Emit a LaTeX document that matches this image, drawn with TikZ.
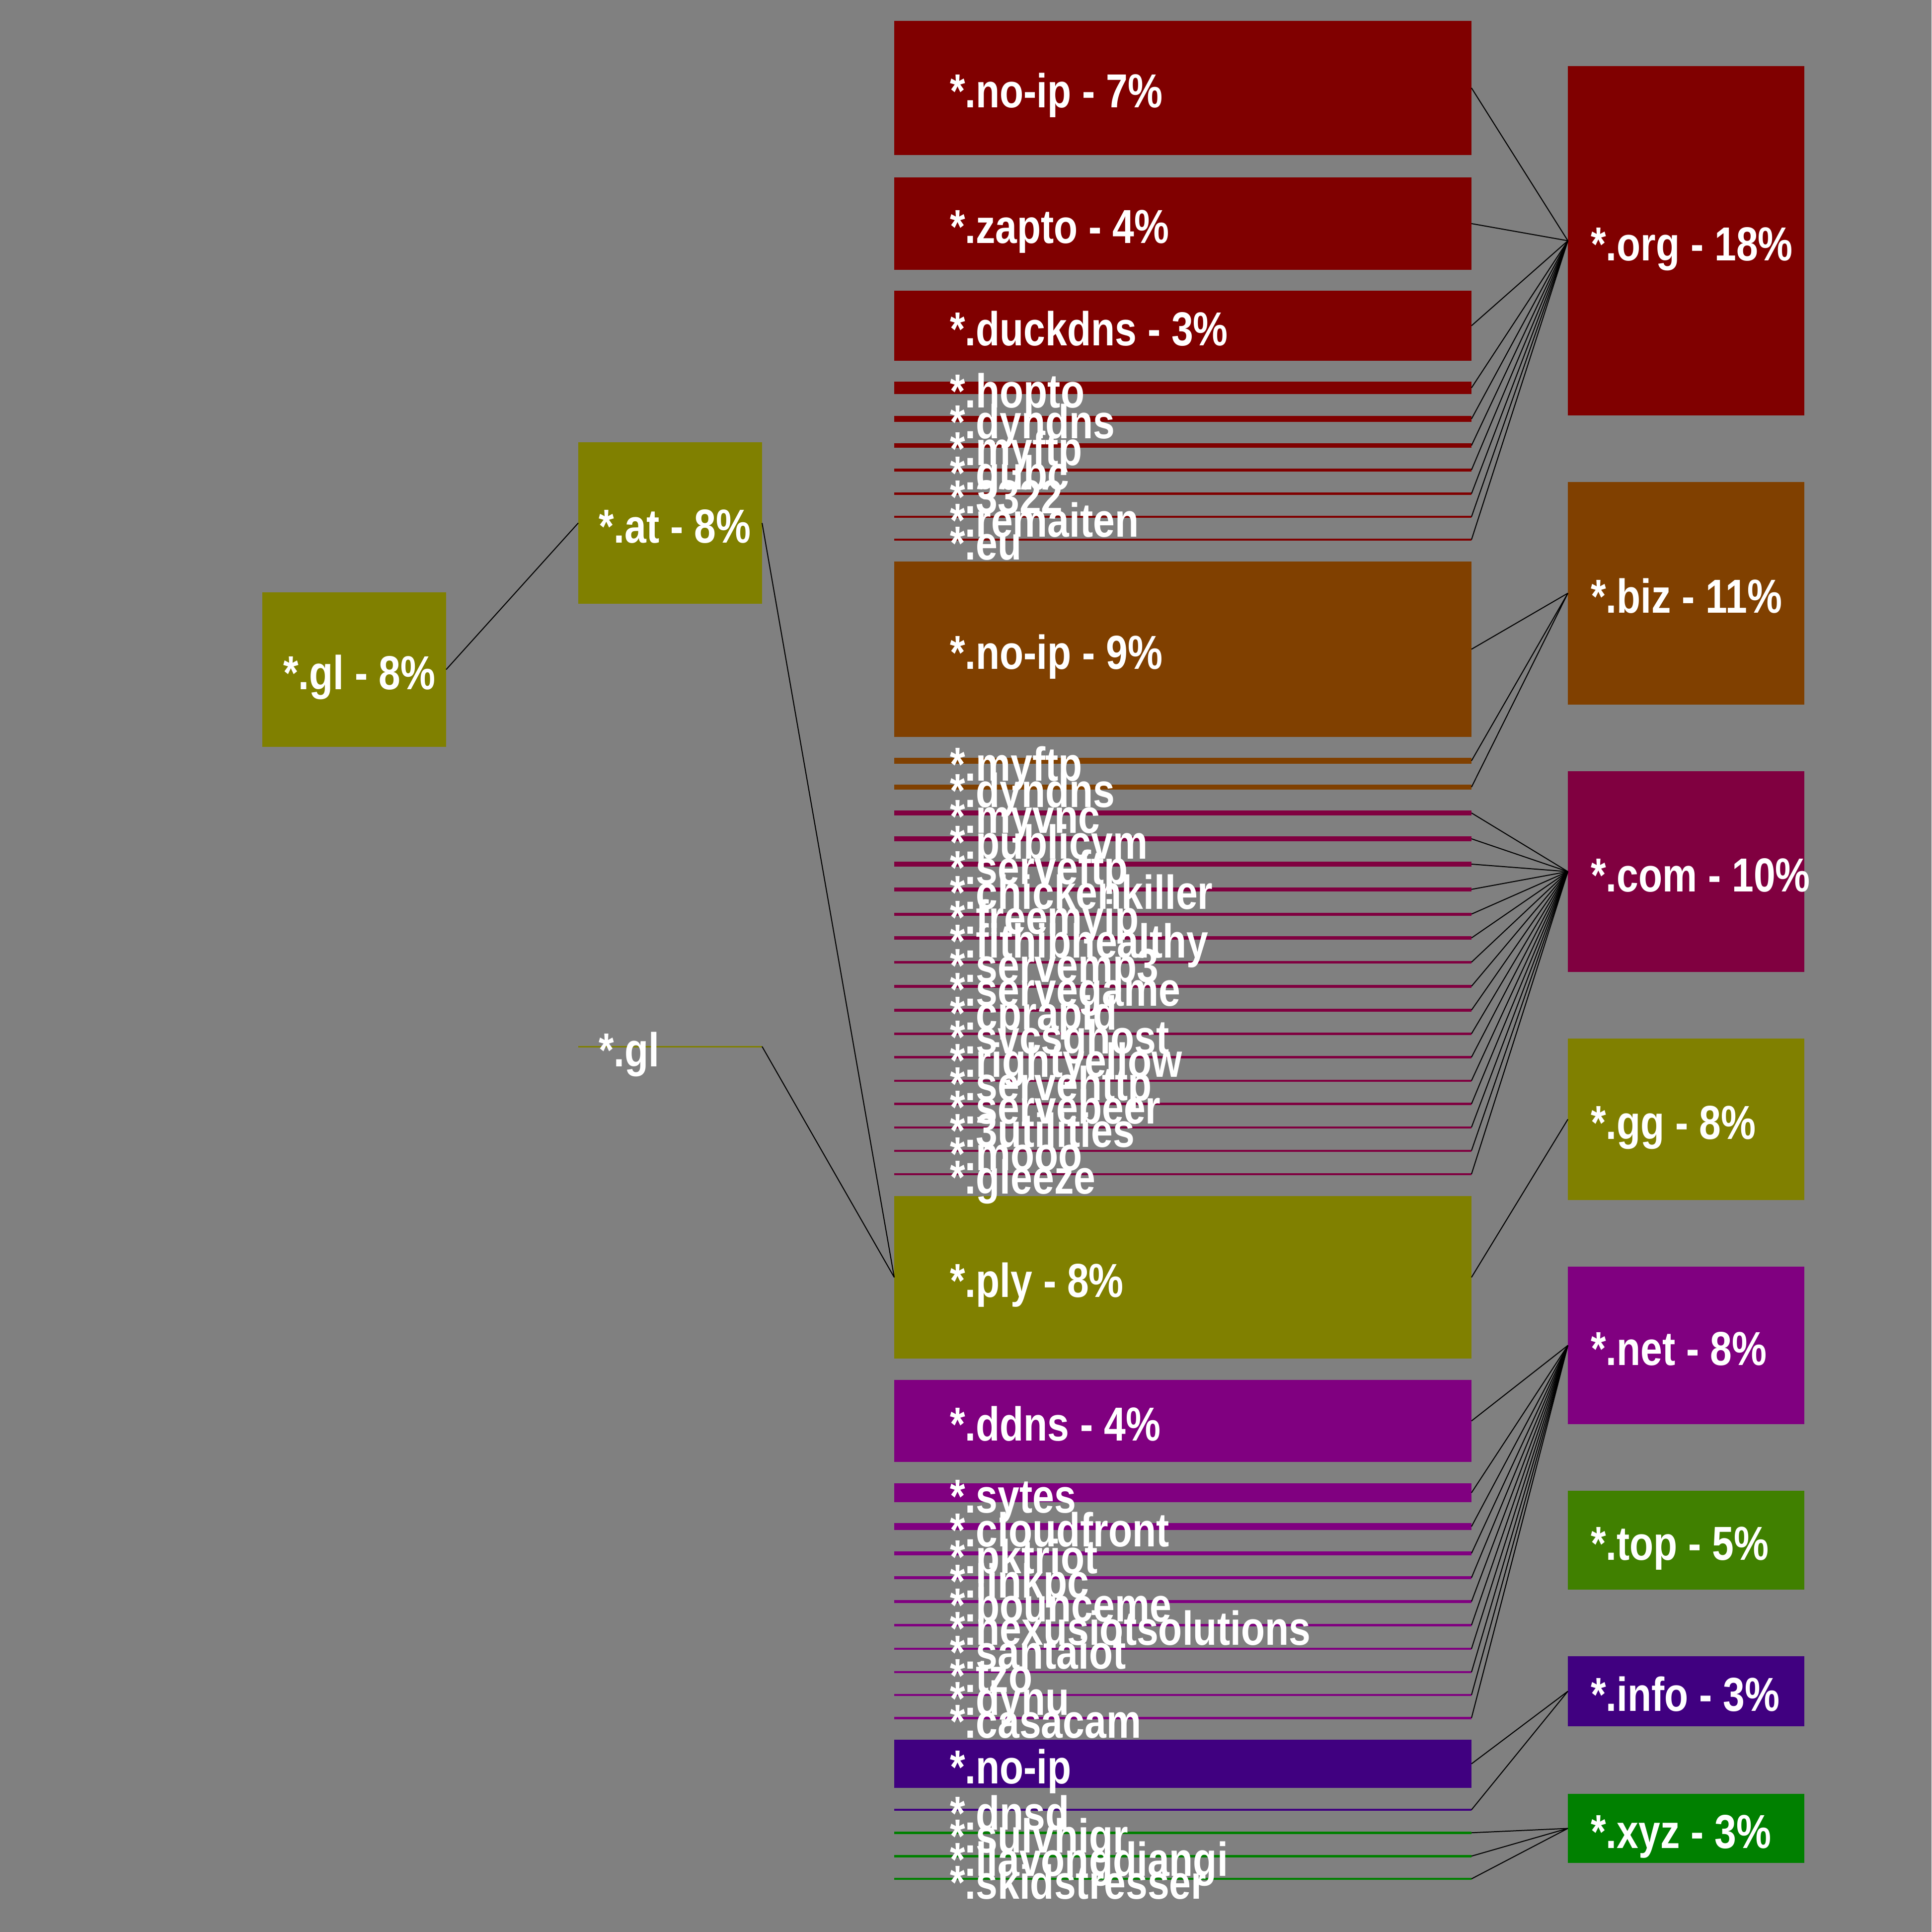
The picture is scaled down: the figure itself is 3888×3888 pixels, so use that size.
\documentclass[tikz,border=0pt]{standalone}
\usepackage{fontspec}
\newfontfamily\labfont[FakeStretch=0.82]{Liberation Sans}
\definecolor{bg}{HTML}{808080}
\definecolor{corg}{HTML}{800000}
\definecolor{cbiz}{HTML}{804000}
\definecolor{ccom}{HTML}{800040}
\definecolor{colive}{HTML}{808000}
\definecolor{cnet}{HTML}{800080}
\definecolor{ctop}{HTML}{408000}
\definecolor{cinfo}{HTML}{400080}
\definecolor{cxyz}{HTML}{008000}
\newcommand\bx[6]{\node[bar, fill=#6, minimum width={(#4-#2)*0.1pt}, minimum height={(#5-#3)*0.1pt}] (#1) at ({(#2+#4)/2},{(#3+#5)/2}) {};}
\newcommand\lb[3]{\node[lab, yshift=-4pt] (#1-t) at (#1.center -| #2) {#3};}
\begin{document}
\begin{tikzpicture}[x=0.1pt,y=-0.1pt,
  bar/.style={rectangle, inner sep=0pt, outer sep=0pt, draw=none},
  lab/.style={anchor=base west, inner sep=0pt, outer sep=0pt, text=white,
    font=\labfont\bfseries\fontsize{9.6pt}{11pt}\selectfont},
  conn/.style={draw=black, line width=0.2pt}]
\useasboundingbox (0,0) rectangle (3888,3888);
\fill[bg] (0,0) rectangle (3888,3888);
\coordinate (xa) at (570,0);
\coordinate (xb) at (1205,0);
\coordinate (xm) at (1912,0);
\coordinate (xr) at (3202,0);
% left columns
\bx{gla}{528}{1192}{898}{1503}{colive}
\bx{at}{1164}{890}{1534}{1215}{colive}
\bx{glb}{1164}{2104.5}{1534}{2107.5}{colive}
% right column
\bx{org}{3156}{133}{3632}{836}{corg}
\bx{biz}{3156}{969.5}{3632}{1418}{cbiz}
\bx{com}{3156}{1552}{3632}{1956}{ccom}
\bx{gg}{3156}{2090}{3632}{2415}{colive}
\bx{net}{3156}{2549}{3632}{2866}{cnet}
\bx{top}{3156}{3000}{3632}{3199}{ctop}
\bx{info}{3156}{3333}{3632}{3474}{cinfo}
\bx{xyz}{3156}{3610}{3632}{3749}{cxyz}
% middle column
\bx{noipa}{1800}{42}{2962}{312}{corg}
\bx{zapto}{1800}{357}{2962}{543}{corg}
\bx{duckdns}{1800}{585}{2962}{726}{corg}
\bx{hopto}{1800}{768}{2962}{793}{corg}
\bx{dyndnsa}{1800}{837}{2962}{849}{corg}
\bx{myftpa}{1800}{892}{2962}{901}{corg}
\bx{gubc}{1800}{943}{2962}{948.5}{corg}
\bx{nthree}{1800}{991}{2962}{996}{corg}
\bx{remaiten}{1800}{1038}{2962}{1042}{corg}
\bx{eu}{1800}{1084}{2962}{1088}{corg}
\bx{noipb}{1800}{1130}{2962}{1483}{cbiz}
\bx{myftpb}{1800}{1525}{2962}{1537}{cbiz}
\bx{dyndnsb}{1800}{1579}{2962}{1589}{cbiz}
\bx{myvnc}{1800}{1631}{2962}{1641}{ccom}
\bx{publicvm}{1800}{1683}{2962}{1693}{ccom}
\bx{serveftp}{1800}{1734}{2962}{1744}{ccom}
\bx{chicken}{1800}{1786}{2962}{1793.5}{ccom}
\bx{freemyip}{1800}{1836.5}{2962}{1842.5}{ccom}
\bx{fithib}{1800}{1884}{2962}{1891}{ccom}
\bx{servemp}{1800}{1933.5}{2962}{1939}{ccom}
\bx{servegame}{1800}{1982}{2962}{1987.5}{ccom}
\bx{cprapid}{1800}{2030}{2962}{2035.5}{ccom}
\bx{svcsghost}{1800}{2078}{2962}{2082.5}{ccom}
\bx{rightyellow}{1800}{2125}{2962}{2130}{ccom}
\bx{servehttp}{1800}{2172.5}{2962}{2177}{ccom}
\bx{servebeer}{1800}{2219}{2962}{2224}{ccom}
\bx{utilities}{1800}{2266.5}{2962}{2270.5}{ccom}
\bx{mooo}{1800}{2313.5}{2962}{2317.5}{ccom}
\bx{gleeze}{1800}{2360.5}{2962}{2365}{ccom}
\bx{ply}{1800}{2407}{2962}{2734}{colive}
\bx{ddns}{1800}{2777}{2962}{2942}{cnet}
\bx{sytes}{1800}{2985}{2962}{3023}{cnet}
\bx{cloudfront}{1800}{3065}{2962}{3079}{cnet}
\bx{pktriot}{1800}{3122}{2962}{3130}{cnet}
\bx{linkpc}{1800}{3172}{2962}{3178}{cnet}
\bx{bounceme}{1800}{3220}{2962}{3226}{cnet}
\bx{nexus}{1800}{3268}{2962}{3273}{cnet}
\bx{santaiot}{1800}{3316}{2962}{3320}{cnet}
\bx{tzo}{1800}{3363}{2962}{3367}{cnet}
\bx{dynu}{1800}{3409}{2962}{3413}{cnet}
\bx{casacam}{1800}{3455}{2962}{3459.5}{cnet}
\bx{noipc}{1800}{3501}{2962}{3598}{cinfo}
\bx{dnsd}{1800}{3640}{2962}{3644}{cinfo}
\bx{sulvhigr}{1800}{3686}{2962}{3690.5}{cxyz}
\bx{llavong}{1800}{3733}{2962}{3737.5}{cxyz}
\bx{skid}{1800}{3779}{2962}{3783}{cxyz}
% connectors
\draw[conn] (gla.east) -- (at.west);
\draw[conn] (at.east) -- (ply.west);
\draw[conn] (glb.east) -- (ply.west);
\foreach \n in {noipa,zapto,duckdns,hopto,dyndnsa,myftpa,gubc,nthree,remaiten,eu}
  \draw[conn] (\n.east) -- (org.west);
\foreach \n in {noipb,myftpb,dyndnsb}
  \draw[conn] (\n.east) -- (biz.west);
\foreach \n in {myvnc,publicvm,serveftp,chicken,freemyip,fithib,servemp,servegame,cprapid,svcsghost,rightyellow,servehttp,servebeer,utilities,mooo,gleeze}
  \draw[conn] (\n.east) -- (com.west);
\draw[conn] (ply.east) -- (gg.west);
\foreach \n in {ddns,sytes,cloudfront,pktriot,linkpc,bounceme,nexus,santaiot,tzo,dynu,casacam}
  \draw[conn] (\n.east) -- (net.west);
\foreach \n in {noipc,dnsd}
  \draw[conn] (\n.east) -- (info.west);
\foreach \n in {sulvhigr,llavong,skid}
  \draw[conn] (\n.east) -- (xyz.west);
% labels
\lb{gla}{xa}{*.gl - 8\%}
\lb{at}{xb}{*.at - 8\%}
\lb{glb}{xb}{*.gl}
\lb{org}{xr}{*.org - 18\%}
\lb{biz}{xr}{*.biz - 11\%}
\lb{com}{xr}{*.com - 10\%}
\lb{gg}{xr}{*.gg - 8\%}
\lb{net}{xr}{*.net - 8\%}
\lb{top}{xr}{*.top - 5\%}
\lb{info}{xr}{*.info - 3\%}
\lb{xyz}{xr}{*.xyz - 3\%}
\lb{noipa}{xm}{*.no-ip - 7\%}
\lb{zapto}{xm}{*.zapto - 4\%}
\lb{duckdns}{xm}{*.duckdns - 3\%}
\lb{hopto}{xm}{*.hopto}
\lb{dyndnsa}{xm}{*.dyndns}
\lb{myftpa}{xm}{*.myftp}
\lb{gubc}{xm}{*.gubc}
\lb{nthree}{xm}{*.3322}
\lb{remaiten}{xm}{*.remaiten}
\lb{eu}{xm}{*.eu}
\lb{noipb}{xm}{*.no-ip - 9\%}
\lb{myftpb}{xm}{*.myftp}
\lb{dyndnsb}{xm}{*.dyndns}
\lb{myvnc}{xm}{*.myvnc}
\lb{publicvm}{xm}{*.publicvm}
\lb{serveftp}{xm}{*.serveftp}
\lb{chicken}{xm}{*.chickenkiller}
\lb{freemyip}{xm}{*.freemyip}
\lb{fithib}{xm}{*.fithibhealthy}
\lb{servemp}{xm}{*.servemp3}
\lb{servegame}{xm}{*.servegame}
\lb{cprapid}{xm}{*.cprapid}
\lb{svcsghost}{xm}{*.svcsghost}
\lb{rightyellow}{xm}{*.rightyellow}
\lb{servehttp}{xm}{*.servehttp}
\lb{servebeer}{xm}{*.servebeer}
\lb{utilities}{xm}{*.3utilities}
\lb{mooo}{xm}{*.mooo}
\lb{gleeze}{xm}{*.gleeze}
\lb{ply}{xm}{*.ply - 8\%}
\lb{ddns}{xm}{*.ddns - 4\%}
\lb{sytes}{xm}{*.sytes}
\lb{cloudfront}{xm}{*.cloudfront}
\lb{pktriot}{xm}{*.pktriot}
\lb{linkpc}{xm}{*.linkpc}
\lb{bounceme}{xm}{*.bounceme}
\lb{nexus}{xm}{*.nexusiotsolutions}
\lb{santaiot}{xm}{*.santaiot}
\lb{tzo}{xm}{*.tzo}
\lb{dynu}{xm}{*.dynu}
\lb{casacam}{xm}{*.casacam}
\lb{noipc}{xm}{*.no-ip}
\lb{dnsd}{xm}{*.dnsd}
\lb{sulvhigr}{xm}{*.sulvhigr}
\lb{llavong}{xm}{*.llavongdiangi}
\lb{skid}{xm}{*.skidstresser}
\end{tikzpicture}
\end{document}
